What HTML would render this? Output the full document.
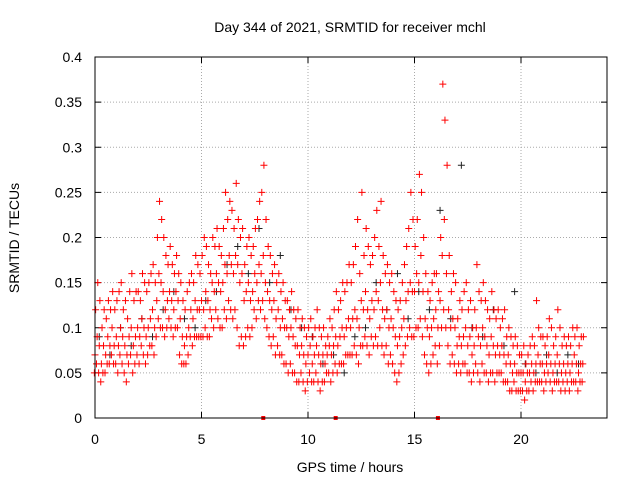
<!DOCTYPE html>
<html><head><meta charset="utf-8"><style>
body{margin:0;background:#fff;}
svg{font-family:"Liberation Sans",sans-serif;font-size:14px;}
</style></head><body>
<svg id="chart" width="640" height="480">
<rect width="640" height="480" fill="#fff"/>
<text x="350" y="32" text-anchor="middle">Day 344 of 2021, SRMTID for receiver mchl</text>
<text x="350" y="472" text-anchor="middle">GPS time / hours</text>
<text transform="translate(19,238) rotate(-90)" text-anchor="middle">SRMTID / TECUs</text>
<g id="grid"></g><g id="ticks"></g><g id="black"></g><g id="red"></g>
<rect x="95" y="57" width="512" height="361" fill="none" stroke="#000"/>
</svg>
<script>
const xTicks=[0,5,10,15,20];
const yTicks=[0,0.05,0.1,0.15,0.2,0.25,0.3,0.35,0.4];
const yTickLabels=["0","0.05","0.1","0.15","0.2","0.25","0.3","0.35","0.4"];
const step=0.1;
const redMid=[.07,.09,.08,.06,.08,.07,.09,.08,.10,.08,.09,.08,.10,.09,.08,.07,.09,.10,.08,.09,.10,.09,.11,.10,.09,.10,.11,.12,.10,.13,.16,.15,.14,.12,.13,.14,.13,.12,.14,.13,.11,.09,.08,.09,.10,.12,.11,.13,.12,.12,.13,.12,.14,.13,.12,.15,.14,.16,.15,.14,.15,.17,.16,.18,.17,.16,.18,.17,.15,.16,.13,.14,.15,.13,.14,.16,.15,.17,.16,.18,.15,.14,.13,.12,.13,.11,.12,.10,.11,.10,.10,.09,.10,.09,.08,.08,.07,.08,.07,.06,.07,.08,.06,.07,.08,.07,.06,.07,.06,.07,.08,.07,.08,.09,.08,.09,.10,.09,.10,.11,.10,.11,.12,.11,.10,.13,.12,.14,.12,.11,.13,.12,.14,.13,.15,.12,.11,.12,.10,.11,.10,.09,.08,.09,.10,.11,.13,.14,.15,.14,.14,.16,.15,.18,.14,.11,.10,.09,.10,.11,.12,.10,.13,.18,.22,.16,.12,.10,.11,.10,.08,.09,.08,.09,.10,.08,.09,.07,.08,.10,.09,.08,.10,.09,.08,.07,.09,.08,.07,.08,.07,.08,.07,.06,.07,.06,.05,.06,.05,.05,.05,.05,.04,.05,.05,.06,.05,.06,.07,.06,.06,.05,.06,.07,.06,.05,.06,.07,.06,.05,.06,.05,.06,.05,.06,.07,.06,.05,.06,.06];
const redHi=[.12,.15,.13,.10,.12,.11,.13,.12,.14,.12,.13,.14,.15,.12,.13,.11,.14,.16,.13,.14,.14,.13,.16,.15,.14,.15,.16,.17,.15,.20,.24,.22,.20,.18,.17,.19,.17,.16,.18,.16,.15,.13,.12,.14,.15,.16,.15,.18,.17,.16,.18,.20,.19,.17,.16,.20,.19,.21,.19,.18,.21,.25,.22,.24,.23,.21,.26,.22,.20,.21,.17,.19,.20,.18,.19,.21,.22,.24,.25,.28,.22,.19,.18,.16,.17,.15,.16,.14,.15,.13,.13,.12,.14,.12,.11,.12,.10,.11,.10,.09,.10,.11,.09,.10,.12,.10,.09,.10,.08,.09,.11,.10,.12,.14,.12,.13,.15,.14,.15,.17,.15,.17,.19,.22,.16,.25,.18,.21,.19,.17,.18,.20,.23,.19,.24,.18,.16,.17,.15,.16,.14,.13,.12,.13,.15,.17,.19,.21,.25,.22,.19,.22,.27,.25,.20,.16,.14,.13,.15,.16,.16,.14,.20,.37,.33,.28,.18,.14,.16,.15,.11,.13,.12,.14,.15,.12,.13,.10,.12,.17,.14,.13,.15,.13,.12,.11,.14,.12,.11,.12,.10,.11,.12,.09,.10,.09,.08,.09,.08,.07,.07,.08,.06,.07,.08,.09,.08,.13,.10,.09,.09,.08,.09,.11,.10,.08,.09,.12,.10,.08,.09,.08,.09,.08,.10,.09,.10,.08,.09,.09];
const redLo=[.05,.06,.05,.04,.05,.05,.06,.06,.07,.06,.06,.05,.07,.06,.05,.04,.06,.07,.05,.06,.07,.06,.08,.07,.06,.07,.08,.08,.07,.09,.11,.10,.10,.09,.10,.11,.10,.09,.10,.10,.07,.06,.06,.06,.07,.09,.08,.09,.09,.09,.09,.09,.10,.09,.09,.11,.10,.12,.11,.10,.10,.12,.11,.13,.12,.11,.12,.10,.08,.09,.08,.09,.10,.09,.10,.12,.11,.13,.12,.13,.11,.10,.09,.08,.09,.07,.08,.07,.07,.06,.06,.05,.06,.05,.05,.04,.04,.05,.04,.03,.04,.05,.04,.04,.05,.04,.03,.04,.04,.05,.05,.04,.05,.06,.05,.06,.06,.06,.07,.07,.07,.07,.08,.07,.06,.08,.08,.09,.08,.07,.09,.08,.09,.08,.10,.08,.07,.08,.06,.07,.06,.05,.04,.05,.06,.07,.08,.09,.10,.09,.09,.10,.10,.11,.09,.07,.06,.05,.06,.07,.08,.06,.08,.10,.12,.10,.08,.06,.07,.06,.05,.06,.05,.06,.06,.05,.05,.04,.05,.06,.05,.04,.06,.05,.05,.04,.05,.05,.04,.05,.05,.05,.04,.04,.04,.03,.03,.04,.03,.03,.03,.03,.02,.03,.03,.04,.03,.04,.04,.04,.04,.03,.04,.05,.04,.03,.04,.04,.04,.03,.04,.03,.04,.03,.04,.04,.04,.03,.04,.04];
const blackVals=[.09,.07,.10,.08,.11,.09,.12,.14,.11,.10,.13,.14,.17,.19,.16,.21,.15,.18,.12,.10,.09,.06,.07,.05,.09,.10,.15,.12,.16,.11,.14,.12,.23,.11,.28,.10,.09,.12,.08,.14,.06,.05,.07,.05,.07,.06];
const blackStep=0.5;
const zeroMarks=[7.9,11.3,16.1];
const X=t=>95+t*(426/20), Y=v=>418-v*(361/0.4);
const NS="http://www.w3.org/2000/svg";
function mk(tag,attrs,parent){const e=document.createElementNS(NS,tag);for(const k in attrs)e.setAttribute(k,attrs[k]);parent.appendChild(e);return e;}
const grid=document.getElementById('grid'),ticks=document.getElementById('ticks');
xTicks.forEach(t=>{
 const l=mk('line',{x1:X(t),x2:X(t),y1:57,y2:418,stroke:'#aaa','stroke-dasharray':'1,2'},grid);
 
 
 const tx=mk('text',{x:X(t),y:444,'text-anchor':'middle'},ticks);tx.textContent=t;
 
 
 mk('line',{x1:X(t),x2:X(t),y1:418,y2:412,stroke:'#000'},ticks);
 mk('line',{x1:X(t),x2:X(t),y1:57,y2:63,stroke:'#000'},ticks);
});
yTicks.forEach((v,i)=>{
 const l=mk('line',{x1:95,x2:607,y1:Y(v),y2:Y(v),stroke:'#aaa','stroke-dasharray':'1,2'},grid);
 
 
 const tx=mk('text',{x:82,y:Y(v)+5,'text-anchor':'end'},ticks);tx.textContent=yTickLabels[i];
 
 
 mk('line',{x1:95,x2:101,y1:Y(v),y2:Y(v),stroke:'#000'},ticks);
 mk('line',{x1:607,x2:601,y1:Y(v),y2:Y(v),stroke:'#000'},ticks);
});
function cross(g,x,y,c,name){
 const p=mk('path',{d:`M${x-3.5},${y}h7M${x},${y-3.5}v7`,stroke:c,'stroke-width':1},g);
 
 
}
const bg=document.getElementById('black'),rg=document.getElementById('red');
blackVals.forEach((v,i)=>cross(bg,X(i*blackStep+0.2),Y(v),'#222','black-point'));
redMid.forEach((v,i)=>cross(rg,X(i*step),Y(v),'#f00','red-point'));
redHi.forEach((v,i)=>cross(rg,X(i*step+0.03),Y(v),'#f00','red-point'));
redLo.forEach((v,i)=>cross(rg,X(i*step-0.03),Y(v),'#f00','red-point'));
zeroMarks.forEach(t=>{const r=mk('rect',{x:X(t)-2,y:416,width:4,height:4,fill:'#f00'},rg);
 
 });
</script>
</body></html>
